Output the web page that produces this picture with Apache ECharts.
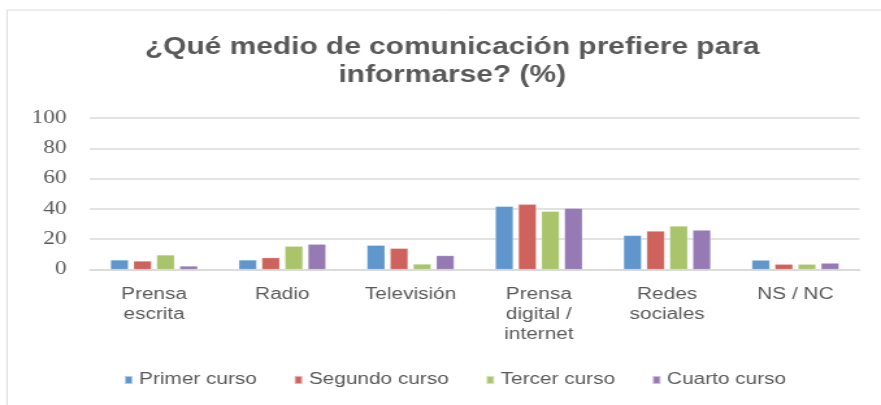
<!DOCTYPE html>
<html>
<head>
<meta charset="utf-8">
<script src="https://cdn.jsdelivr.net/npm/echarts@6/dist/echarts.min.js"></script>
<style>
html,body{margin:0;padding:0;background:#fff;overflow:hidden;width:881px;height:405px;}
#chart{width:678px;height:405px;transform:scaleX(1.2994);transform-origin:0 0;}
</style>
</head>
<body>
<div id="chart"></div>
<script>
const categories = ['Prensa\nescrita', 'Radio', 'Televisión', 'Prensa\ndigital /\ninternet', 'Redes\nsociales', 'NS / NC'];
const seriesNames = ['Primer curso', 'Segundo curso', 'Tercer curso', 'Cuarto curso'];
const primerCurso = [6.3, 6.3, 16, 41.7, 22.5, 6.2];
const segundoCurso = [5.6, 7.8, 14, 43, 25.4, 3.5];
const tercerCurso = [9.6, 15.4, 3.6, 38.4, 28.7, 3.5];
const cuartoCurso = [2.3, 16.7, 9.2, 40.4, 26, 4.2];
const yTicks = [0, 20, 40, 60, 80, 100];
const colors = ['#5f96cc', '#cd635c', '#a9c46a', '#957ab3'];

const chart = echarts.init(document.getElementById('chart'), null, {renderer: 'canvas'});
const textColor = '#595959';
const values = [primerCurso, segundoCurso, tercerCurso, cuartoCurso];
chart.setOption({
  animation: false,
  color: colors,
  graphic: [{
    type: 'rect', shape: {x: 5.4, y: 10, width: 800, height: 500},
    style: {fill: 'none', stroke: '#dcdcdc', lineWidth: 1}, silent: true, z: -1
  }],
  title: {
    text: '¿Qué medio de comunicación prefiere para\ninformarse? (%)',
    left: 348, top: 34, padding: 0, textAlign: 'center',
    textStyle: {fontFamily: 'Liberation Sans', fontSize: 23, fontWeight: 'bold', color: textColor, lineHeight: 28}
  },
  legend: {
    data: seriesNames, left: 95, top: 372, padding: 0,
    itemWidth: 6, itemHeight: 8, itemGap: 28,
    icon: 'rect',
    textStyle: {fontFamily: 'Liberation Sans', fontSize: 16, color: textColor}
  },
  grid: {left: 69.2, right: 16.5, top: 118, bottom: 135.5, containLabel: false},
  xAxis: {
    type: 'category', data: categories,
    axisLine: {show: true, lineStyle: {color: '#d9d9d9', width: 1.5}},
    axisTick: {show: false},
    axisLabel: {interval: 0, margin: 15, fontFamily: 'Liberation Sans', fontSize: 16, color: textColor, lineHeight: 20}
  },
  yAxis: {
    type: 'value', min: yTicks[0], max: yTicks[yTicks.length - 1], interval: 20,
    axisLine: {show: false}, axisTick: {show: false},
    splitLine: {lineStyle: {color: '#d9d9d9', width: 1.5}},
    axisLabel: {margin: 18, padding: [5, 0, 0, 0], fontFamily: "'Liberation Serif', serif", fontSize: 18, color: textColor}
  },
  series: seriesNames.map((n, i) => ({
    name: n, type: 'bar', data: values[i],
    barGap: '28%', barCategoryGap: '32%',
    itemStyle: {color: colors[i], borderColor: 'rgba(255,255,255,0.5)', borderWidth: 0.5}
  }))
});
</script>
</body>
</html>
